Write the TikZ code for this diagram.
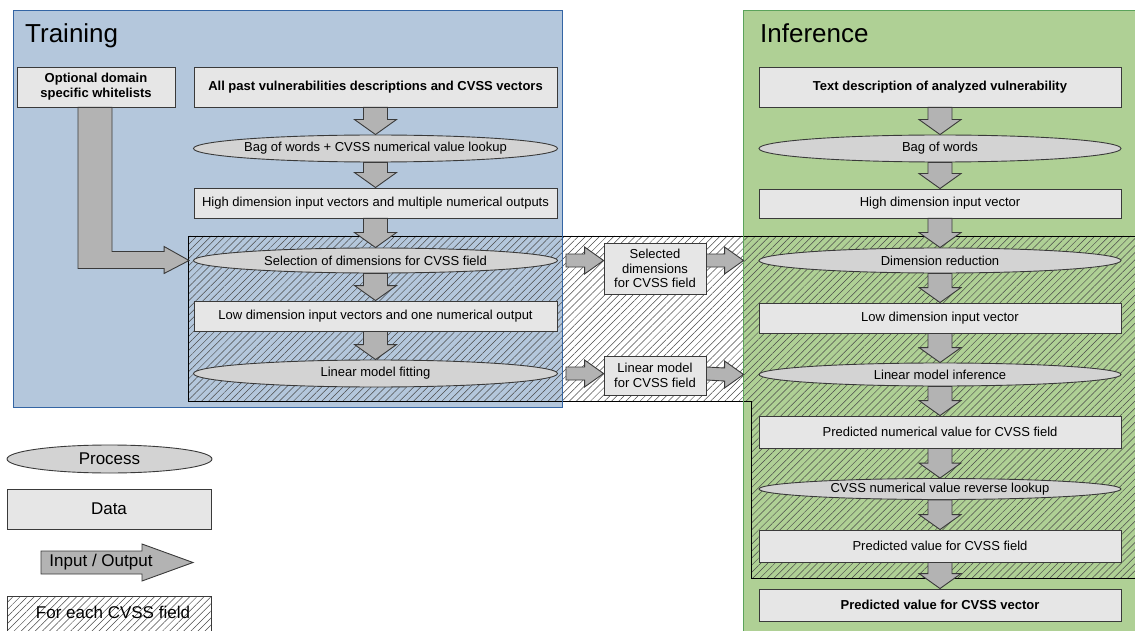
\documentclass[tikz,border=0pt]{standalone}
\usepackage{fontspec}
\setmainfont{Liberation Sans}
\usetikzlibrary{shapes.geometric,patterns.meta,calc}
\definecolor{trainfill}{HTML}{B4C7DC}
\definecolor{trainline}{HTML}{3465A4}
\definecolor{inffill}{HTML}{AFD095}
\definecolor{infline}{HTML}{5BA35B}
\definecolor{datafill}{HTML}{E6E6E6}
\definecolor{procfill}{HTML}{D3D3D3}
\definecolor{arrfill}{HTML}{B3B3B3}
\definecolor{edgec}{HTML}{3A3A3A}
\definecolor{hatchc}{HTML}{4A4A4A}
\newcommand\ptext[1]{\makebox[0pt][c]{#1}}
\newcommand\bdown[2]{\draw[io] ($(#1.south)+(-12,0)$) -- ($(#2.north)+(-12,-15)$) -- ($(#2.north)+(-21,-15)$) -- (#2.north) -- ($(#2.north)+(21,-15)$) -- ($(#2.north)+(12,-15)$) -- ($(#1.south)+(12,0)$) -- cycle;}
\newcommand\bright[2]{\draw[io] ($(#1)+(0,-6.5)$) -- ($(#2)+(-19,-6.5)$) -- ($(#2)+(-19,-13.5)$) -- (#2) -- ($(#2)+(-19,13.5)$) -- ($(#2)+(-19,6.5)$) -- ($(#1)+(0,6.5)$) -- cycle;}
\tikzset{
  txt/.style={font=\fontsize{13}{15}\selectfont},
  datanode/.style={draw=edgec, fill=datafill, line width=0.9pt, inner sep=0pt, align=center, minimum width=363, minimum height=30, txt},
  procnode/.style={ellipse, draw=edgec, fill=procfill, line width=0.9pt, inner sep=0pt, minimum width=364, minimum height=27, txt},
  io/.style={draw=edgec, fill=arrfill, line width=0.9pt, line join=miter},
  hatch/.style={pattern={Lines[angle=45,distance=5pt,line width=0.5pt]}, pattern color=hatchc},
  title/.style={anchor=base west, inner sep=0pt, font=\fontsize{26}{30}\selectfont},
  legend/.style={font=\fontsize{17}{20}\selectfont}
}
\begin{document}
\begin{tikzpicture}[x=1pt,y=-1pt]
\useasboundingbox (0,0) rectangle (1135,631);
\clip (0,0) rectangle (1135,631);
% region fills
\fill[trainfill] (13,11) rectangle (562,407);
\fill[inffill] (743,11) rectangle (1145,645);
% hatched "for each CVSS field" region
\draw[hatch, draw=black, line width=0.8pt] (188,236) -- (1145,236) -- (1145,578) -- (751,578) -- (751,401) -- (188,401) -- cycle;
% region borders
\draw[trainline, line width=1pt] (13,11) rectangle (562,407);
\draw[infline, line width=1pt] (743,645) -- (743,11) -- (1145,11);
\node[title] (ttrain) at (25,43) {Training};
\node[title] (tinf) at (760,43) {Inference};
% training column
\node[datanode, minimum width=158, minimum height=40, font=\fontsize{13}{15}\selectfont\bfseries] (wl) at (96,87) {Optional domain\\specific whitelists};
\node[datanode, minimum height=40, font=\fontsize{13}{15}\selectfont\bfseries] (allpast) at (375.5,87) {All past vulnerabilities descriptions and CVSS vectors};
\node[procnode] (bow) at (375.5,148.5) {\ptext{Bag of words + CVSS numerical value lookup}};
\node[datanode] (hdim) at (375.5,203) {High dimension input vectors and multiple numerical outputs};
\node[procnode, minimum height=25] (sel) at (375.5,260.5) {\ptext{Selection of dimensions for CVSS field}};
\node[datanode] (ldim) at (375.5,316) {Low dimension input vectors and one numerical output};
\node[procnode] (fit) at (375.5,373.5) {\ptext{Linear model fitting}};
% middle
\node[datanode, minimum width=102, minimum height=51, font=\fontsize{13}{14.3}\selectfont] (seldim) at (655,268.5) {Selected\\dimensions\\for CVSS field};
\node[datanode, minimum width=102, minimum height=39, font=\fontsize{13}{14.3}\selectfont] (lmbox) at (655,375.5) {Linear model\\for CVSS field};
% inference column
\node[datanode, minimum width=362, minimum height=40, font=\fontsize{13}{15}\selectfont\bfseries] (tdesc) at (940,87) {Text description of analyzed vulnerability};
\node[procnode, minimum width=362] (bow2) at (940,148.5) {\ptext{Bag of words}};
\node[datanode, minimum width=362, minimum height=29] (hvec) at (940,203.5) {High dimension input vector};
\node[procnode, minimum width=362, minimum height=25] (dimred) at (940,260.5) {\ptext{Dimension reduction}};
\node[datanode, minimum width=362] (lvec) at (940,318) {Low dimension input vector};
\node[procnode, minimum width=362, minimum height=23] (linf) at (940,374.5) {\ptext{Linear model inference}};
\node[datanode, minimum width=362, minimum height=32] (pnum) at (940,432) {Predicted numerical value for CVSS field};
\node[procnode, minimum width=362, minimum height=21] (rev) at (940,489) {\ptext{CVSS numerical value reverse lookup}};
\node[datanode, minimum width=362, minimum height=32] (pfield) at (940,546) {Predicted value for CVSS field};
\node[datanode, minimum width=362, minimum height=32, font=\fontsize{13}{15}\selectfont\bfseries] (pvec) at (940,605) {Predicted value for CVSS vector};
% vertical arrows
\bdown{allpast}{bow}
\bdown{bow}{hdim}
\bdown{hdim}{sel}
\bdown{sel}{ldim}
\bdown{ldim}{fit}
\bdown{tdesc}{bow2}
\bdown{bow2}{hvec}
\bdown{hvec}{dimred}
\bdown{dimred}{lvec}
\bdown{lvec}{linf}
\bdown{linf}{pnum}
\bdown{pnum}{rev}
\bdown{rev}{pfield}
\bdown{pfield}{pvec}
% horizontal arrows
\coordinate (a1s) at ($(sel.east)+(8,0)$);
\coordinate (a1e) at (seldim.west |- sel.east);
\coordinate (a2s) at (seldim.east |- sel.east);
\coordinate (a2e) at ($(dimred.west)+(-15,0)$);
\coordinate (a3s) at ($(fit.east)+(8,0)$);
\coordinate (a3e) at (lmbox.west |- fit.east);
\coordinate (a4s) at (lmbox.east |- fit.east);
\coordinate (a4e) at ($(linf.west)+(-15,0)$);
\bright{a1s}{a1e}
\bright{a2s}{a2e}
\bright{a3s}{a3e}
\bright{a4s}{a4e}
% whitelist bent arrow
\draw[io] ($(wl.south)+(-18,0)$) |- ($(sel.west)+(-29,8)$) -- ($(sel.west)+(-29,13)$) -- ($(sel.west)+(-4,0)$) -- ($(sel.west)+(-29,-14)$) -- ($(sel.west)+(-29,-9)$) -| ($(wl.south)+(16,0)$) -- cycle;
% legend
\node[procnode, minimum width=205, minimum height=28, legend] (lproc) at (109.5,459) {\ptext{Process}};
\node[datanode, minimum width=204, minimum height=40, legend] (ldata) at (109,509) {Data};
\draw[io] (41,551) -- (142,551) -- (142,544) -- (193,562.5) -- (142,581) -- (142,574) -- (41,574) -- cycle;
\node[legend, inner sep=0pt] (lio) at (101,562.5) {Input / Output};
\draw[hatch, draw=edgec, line width=0.9pt] (7,596) rectangle (211,645);
\node[legend, inner sep=0pt] (lfor) at (113,612) {For each CVSS field};
\end{tikzpicture}
\end{document}
